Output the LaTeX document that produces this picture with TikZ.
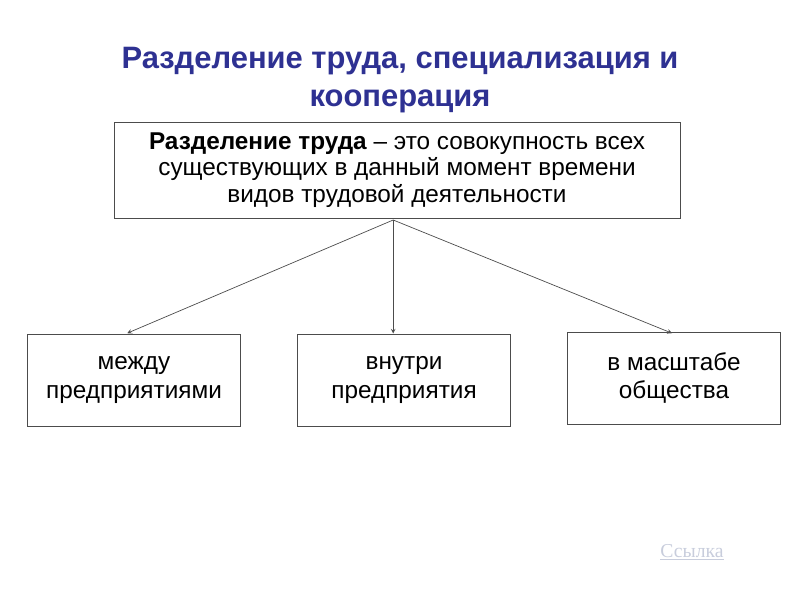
\documentclass[tikz,border=0pt]{standalone}
\usepackage{fontspec}
\setmainfont{Liberation Sans}
\newfontfamily\linkfont{Liberation Serif}
\definecolor{titleblue}{RGB}{46,49,146}
\definecolor{linkgrey}{RGB}{200,205,220}
\tikzset{
  databox/.style={draw=black!70, line width=0.6pt, minimum width=5.33cm, minimum height=2.3cm, align=center, font=\fontsize{17.3}{20}\selectfont},
  link/.style={draw=black!70, line width=0.5pt, -stealth}
}
\begin{document}
\begin{tikzpicture}
\useasboundingbox (0,0) rectangle (20,15);
\node[text=titleblue, font=\fontsize{22}{27}\selectfont\bfseries, align=center] (title) at (10,13.0) {Разделение труда, специализация и\\кооперация};
\node[draw=black!70, line width=0.6pt, minimum width=14.15cm, minimum height=2.4cm, align=center, font=\fontsize{17.3}{19}\selectfont] (def) at (9.925,10.75) {\textbf{Разделение труда} -- это совокупность всех\\существующих в данный момент времени\\видов трудовой деятельности};
\node[databox] (between) at (3.35,5.5) {между\\предприятиями};
\node[databox] (inside) at (10.1,5.5) {внутри\\предприятия};
\node[databox] (society) at (16.85,5.55) {в масштабе\\общества};
\coordinate (fork) at (9.83,9.5);
\draw[link] (fork) -- (3.18,6.67);
\draw[link] (fork) -- (inside.north -| fork);
\draw[link] (fork) -- (16.8,6.67);
\node[text=linkgrey, font=\linkfont\fontsize{14}{16}\selectfont] (ref) at (17.3,1.2) {\underline{Ссылка}};
\end{tikzpicture}
\end{document}
